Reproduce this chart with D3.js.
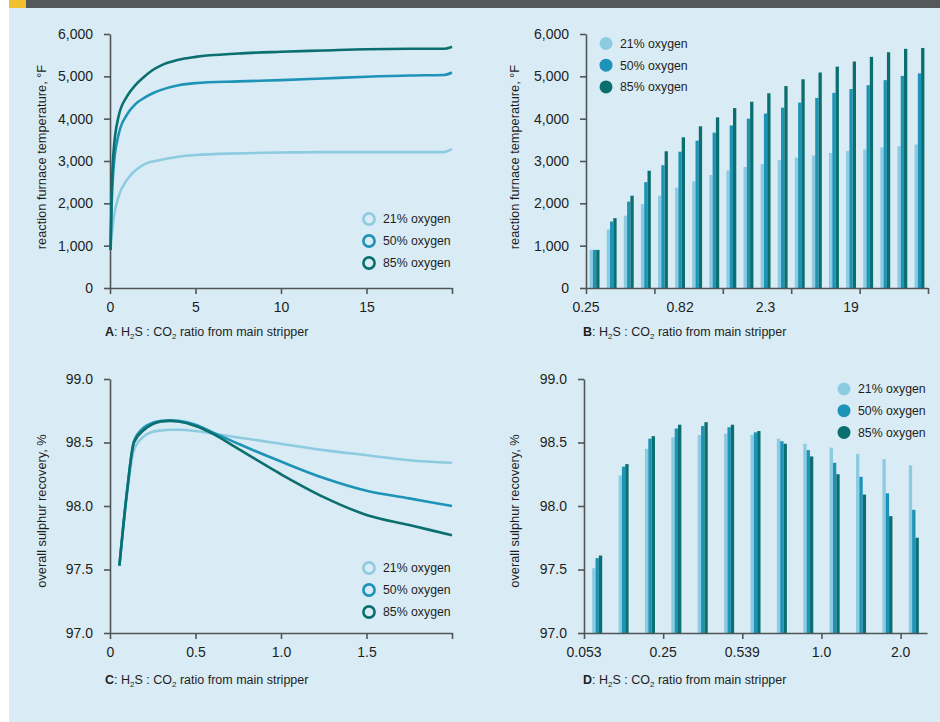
<!DOCTYPE html>
<html>
<head>
<meta charset="utf-8">
<script src="https://cdn.jsdelivr.net/npm/d3@7"></script>
<style>
  body { margin: 0; background: #fff; }
  svg { display: block; font-family: "Liberation Sans", Arial, sans-serif; }
</style>
</head>
<body>
<svg id="chart"></svg>
<script>
const SERIES = ["21% oxygen", "50% oxygen", "85% oxygen"];
const COLORS = ["#8dcbe1", "#1d93b8", "#0b6f6f"];

// A: furnace temperature vs ratio (lines)
const aX   = [0.03, 0.1, 0.2, 0.5, 1, 1.5, 2, 2.5, 3, 4, 5, 7.5, 10, 12.5, 15, 17.5, 19.5, 20];
const a21  = [900, 1250, 1610, 2160, 2560, 2780, 2920, 2990, 3030, 3100, 3140, 3180, 3200, 3210, 3210, 3210, 3210, 3280];
const a50  = [900, 2000, 2790, 3620, 4100, 4350, 4490, 4600, 4680, 4790, 4840, 4880, 4910, 4950, 4990, 5020, 5030, 5090];
const a85  = [900, 2300, 3180, 4050, 4530, 4800, 4990, 5150, 5260, 5390, 5460, 5540, 5580, 5610, 5640, 5650, 5650, 5700];
const aXTicks = [0, 5, 10, 15, 20];
const aXLabels = ["0", "5", "10", "15", ""];
const tempTicks = [0, 1000, 2000, 3000, 4000, 5000, 6000];

// B: furnace temperature, 20 ratio groups (bars)
const b21 = [900, 1380, 1710, 1980, 2180, 2370, 2520, 2670, 2780, 2860, 2930, 3020, 3080, 3130, 3190, 3240, 3270, 3320, 3350, 3390];
const b50 = [900, 1570, 2040, 2500, 2900, 3220, 3480, 3670, 3840, 4000, 4120, 4260, 4380, 4490, 4610, 4700, 4790, 4910, 5010, 5070];
const b85 = [900, 1650, 2180, 2770, 3230, 3560, 3820, 4030, 4250, 4400, 4600, 4770, 4930, 5090, 5230, 5350, 5460, 5570, 5650, 5670];
const bTickAt = [0, 4, 8, 12, 16, 20];
const bLabelAt = [0, 5.5, 10.5, 15.5];
const bLabels = ["0.25", "0.82", "2.3", "19"];

// C: sulphur recovery vs ratio (lines)
const cX  = [0.055, 0.1, 0.14, 0.2, 0.25, 0.3, 0.35, 0.4, 0.5, 0.6, 0.75, 1.0, 1.25, 1.5, 1.75, 2.0];
const c21 = [97.53, 98.10, 98.44, 98.55, 98.585, 98.595, 98.60, 98.60, 98.59, 98.57, 98.54, 98.49, 98.44, 98.40, 98.36, 98.34];
const c50 = [97.53, 98.12, 98.51, 98.62, 98.655, 98.67, 98.675, 98.67, 98.64, 98.58, 98.49, 98.35, 98.22, 98.12, 98.06, 98.00];
const c85 = [97.53, 98.12, 98.50, 98.60, 98.645, 98.665, 98.67, 98.665, 98.63, 98.57, 98.45, 98.25, 98.07, 97.93, 97.85, 97.77];
const cXTicks = [0, 0.5, 1.0, 1.5, 2.0];
const cXLabels = ["0", "0.5", "1.0", "1.5", ""];
const recTicks = [97.0, 97.5, 98.0, 98.5, 99.0];

// D: sulphur recovery, 13 ratio groups (bars)
const d21 = [97.51, 98.24, 98.45, 98.54, 98.56, 98.57, 98.56, 98.53, 98.49, 98.46, 98.41, 98.37, 98.32];
const d50 = [97.59, 98.31, 98.53, 98.61, 98.63, 98.62, 98.58, 98.51, 98.44, 98.34, 98.23, 98.10, 97.97];
const d85 = [97.61, 98.33, 98.55, 98.64, 98.66, 98.64, 98.59, 98.49, 98.39, 98.25, 98.09, 97.92, 97.75];
const dTickAt = [0, 3, 6, 9, 12];
const dLabels = ["0.053", "0.25", "0.539", "1.0", "2.0"];

const W = 940, H = 722;
const svg = d3.select("#chart").attr("width", W).attr("height", H);

// page background + header strip
svg.append("rect").attr("width", W).attr("height", H).attr("fill", "#fff");
svg.append("rect").attr("x", 9).attr("y", 8).attr("width", W - 9).attr("height", H - 8).attr("fill", "#d9ecf5");
svg.append("rect").attr("x", 26).attr("y", 0).attr("width", W - 26).attr("height", 8).attr("fill", "#54585a");
svg.append("rect").attr("x", 9).attr("y", 0).attr("width", 17).attr("height", 8).attr("fill", "#f0c02f");

const AXIS_COL = "#505557";
const TXT_COL = "#1e1e1e";

function styleAxis(g) {
  g.select(".domain").attr("stroke", AXIS_COL).attr("stroke-width", 1.6);
  g.selectAll(".tick line").attr("stroke", AXIS_COL).attr("stroke-width", 1.6);
  g.selectAll(".tick text").attr("fill", TXT_COL).attr("font-size", "14px")
    .attr("font-family", "'Liberation Sans', Arial, sans-serif");
}

function yAxis(y, x0, ticks, fmt) {
  svg.append("g").attr("transform", `translate(${x0},0)`)
    .call(d3.axisLeft(y).tickValues(ticks).tickFormat(fmt).tickSize(6).tickPadding(11).tickSizeOuter(0))
    .call(styleAxis);
}

function yTitle(text, cx, cy) {
  svg.append("text")
    .attr("transform", `translate(${cx},${cy}) rotate(-90)`)
    .attr("text-anchor", "middle").attr("dominant-baseline", "central")
    .attr("font-size", "12.8px").attr("fill", TXT_COL)
    .text(text);
}

function xTitle(letter, x, y) {
  const t = svg.append("text").attr("x", x).attr("y", y)
    .attr("font-size", "12.5px").attr("fill", TXT_COL);
  t.append("tspan").attr("font-weight", "bold").text(letter);
  t.append("tspan").text(": H");
  t.append("tspan").attr("font-size", "8px").attr("dy", 3).text("2");
  t.append("tspan").attr("dy", -3).text("S : CO");
  t.append("tspan").attr("font-size", "8px").attr("dy", 3).text("2");
  t.append("tspan").attr("dy", -3).text(" ratio from main stripper");
}

function legend(x, y, step, filled) {
  SERIES.forEach((s, i) => {
    const g = svg.append("g").attr("transform", `translate(${x},${y + i * step})`);
    if (filled) {
      g.append("circle").attr("r", 6.5).attr("fill", COLORS[i]);
    } else {
      g.append("circle").attr("r", 5.6).attr("fill", "none")
        .attr("stroke", COLORS[i]).attr("stroke-width", 2.6);
    }
    g.append("text").attr("x", 14).attr("dy", "0.35em")
      .attr("font-size", "12.3px").attr("fill", TXT_COL).text(s);
  });
}

function linePanel(xs, series, xDom, xRange, yDom, yRange, xTicks, xLabels, yTicks, yFmt) {
  const x = d3.scaleLinear().domain(xDom).range(xRange);
  const y = d3.scaleLinear().domain(yDom).range(yRange);
  svg.append("g").attr("transform", `translate(0,${yRange[0]})`)
    .call(d3.axisBottom(x).tickValues(xTicks).tickFormat((d, i) => xLabels[i])
      .tickSize(6).tickPadding(8).tickSizeOuter(0))
    .call(styleAxis);
  yAxis(y, xRange[0], yTicks, yFmt);
  const line = d3.line().x(d => x(d[0])).y(d => y(d[1])).curve(d3.curveMonotoneX);
  series.forEach((vals, i) => {
    svg.append("path")
      .datum(xs.map((v, j) => [v, vals[j]]))
      .attr("d", line).attr("fill", "none")
      .attr("stroke", COLORS[i]).attr("stroke-width", 2.6)
      .attr("stroke-linejoin", "round").attr("stroke-linecap", "butt");
  });
}

function barPanel(series, xRange, yDom, yRange, tickAt, labelAt, labels, yTicks, yFmt, endTick, pad) {
  const n = series[0].length;
  const xi = d3.scaleLinear().domain([0, n]).range(xRange);
  // outer = inner / 2 keeps each group centred in its 1/n slot
  const band = d3.scaleBand().domain(d3.range(n)).range(xRange).paddingInner(pad).paddingOuter(pad / 2);
  const sub = d3.scaleBand().domain(d3.range(series.length)).range([0, band.bandwidth()]);
  const y = d3.scaleLinear().domain(yDom).range(yRange);

  series.forEach((vals, s) => {
    svg.append("g").selectAll("rect").data(vals).join("rect")
      .attr("x", (d, i) => band(i) + sub(s))
      .attr("y", d => y(d))
      .attr("width", sub.bandwidth())
      .attr("height", d => y(yDom[0]) - y(d))
      .attr("fill", COLORS[s]);
  });

  const ticks = endTick ? tickAt : tickAt.filter(t => t < n);
  const xa = svg.append("g").attr("transform", `translate(0,${yRange[0]})`)
    .call(d3.axisBottom(xi).tickValues(ticks).tickFormat("").tickSize(6).tickSizeOuter(0))
    .call(styleAxis);
  xa.selectAll(".tick text").remove();
  svg.append("g").selectAll("text").data(labels).join("text")
    .attr("x", (d, i) => xi(labelAt[i]))
    .attr("y", yRange[0] + 14).attr("dy", "0.71em")
    .attr("text-anchor", "middle").attr("font-size", "14px").attr("fill", TXT_COL)
    .text(d => d);
  yAxis(y, xRange[0], yTicks, yFmt);
}

const fmtTemp = d3.format(",");
const fmtRec = d3.format(".1f");

// Panel A
linePanel(aX, [a21, a50, a85], [0, 20], [110, 452], [0, 6000], [288, 34],
  aXTicks, aXLabels, tempTicks, fmtTemp);
yTitle("reaction furnace temperature, \u00B0F", 41, 157);
xTitle("A", 105, 336);
legend(369, 219, 22, false);

// Panel B
barPanel([b21, b50, b85], [586, 928], [0, 6000], [288, 34], bTickAt, bLabelAt, bLabels, tempTicks, fmtTemp, true, 0.42);
yTitle("reaction furnace temperature, \u00B0F", 514, 157);
xTitle("B", 583, 336);
legend(606, 43.5, 21.7, true);

// Panel C
linePanel(cX, [c21, c50, c85], [0, 2], [110, 452], [97, 99], [633, 379],
  cXTicks, cXLabels, recTicks, fmtRec);
yTitle("overall sulphur recovery, %", 41, 511);
xTitle("C", 105, 684);
legend(369, 568, 22, false);

// Panel D
barPanel([d21, d50, d85], [584, 927], [97, 99], [633, 379], dTickAt, dTickAt, dLabels, recTicks, fmtRec, false, 0.62);
yTitle("overall sulphur recovery, %", 514, 511);
xTitle("D", 583, 684);
legend(844, 389, 21.7, true);
</script>
</body>
</html>
